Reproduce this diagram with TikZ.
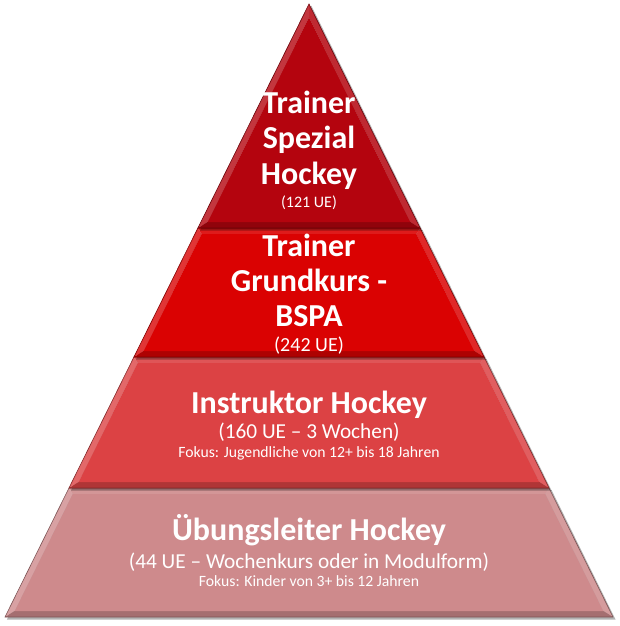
\documentclass[tikz,border=0pt]{standalone}
\usepackage{fontspec}
\setmainfont{Carlito}
\definecolor{tierA}{RGB}{180,4,14}
\definecolor{tierB}{RGB}{218,2,2}
\definecolor{tierC}{RGB}{220,66,68}
\definecolor{tierD}{RGB}{206,138,140}
\tikzset{
  tiertitle/.style={text=white,anchor=base,inner sep=0pt,font=\fontsize{32}{38}\selectfont\bfseries},
  tiersub/.style={text=white,anchor=base,inner sep=0pt,font=\fontsize{21.3}{25}\selectfont},
  tierfocus/.style={text=white,anchor=base,inner sep=0pt,font=\fontsize{15.7}{19}\selectfont},
}
% #1 top y, #2 bottom y, #3 colour
\newcommand\tierbox[3]{%
  \pgfmathsetmacro\xtl{309-0.49592*(#1-4)}%
  \pgfmathsetmacro\xtr{618-\xtl}%
  \pgfmathsetmacro\xbl{309-0.49592*(#2-4)}%
  \pgfmathsetmacro\xbr{618-\xbl}%
  \pgfmathsetmacro\ita{#1<5 ? 17.5 : #1+6}%
  \pgfmathsetmacro\ixtl{#1<5 ? 309 : 309-0.49592*(\ita-4)+6.7}%
  \pgfmathsetmacro\ixtr{618-\ixtl}%
  \pgfmathsetmacro\itb{#2-6}%
  \pgfmathsetmacro\ixbl{309-0.49592*(\itb-4)+6.7}%
  \pgfmathsetmacro\ixbr{618-\ixbl}%
  \fill[black,opacity=0.3] (\xtl+2,#1+2) -- (\xtr+2.5,#1+2) -- (\xbr+2.5,#2+2.5) -- (\xbl+2,#2+2.5) -- cycle;
  \fill[#3!90!white] (\xtl,#1) -- (\xtr,#1) -- (\ixtr,\ita) -- (\ixtl,\ita) -- cycle;
  \fill[#3!80!white] (\xbl,#2) -- (\xtl,#1) -- (\ixtl,\ita) -- (\ixbl,\itb) -- cycle;
  \fill[#3!85!white] (\xtr,#1) -- (\xbr,#2) -- (\ixbr,\itb) -- (\ixtr,\ita) -- cycle;
  \fill[#3!80!black] (\xbr,#2) -- (\xbl,#2) -- (\ixbl,\itb) -- (\ixbr,\itb) -- cycle;
  \fill[#3] (\ixtl,\ita) -- (\ixtr,\ita) -- (\ixbr,\itb) -- (\ixbl,\itb) -- cycle;
  \draw[#3!60!black,line width=0.6pt] (\xtl,#1) -- (\xtr,#1) -- (\xbr,#2) -- (\xbl,#2) -- cycle;
}
\begin{document}
\begin{tikzpicture}[x=1pt,y=-1pt]
\useasboundingbox (0,0) rectangle (620,626);
\tierbox{488}{617}{tierD}
\tierbox{357}{488}{tierC}
\tierbox{228}{357}{tierB}
\tierbox{4}{228}{tierA}
% level 1
\node[tiertitle] (a1) at (309,113) {Trainer};
\node[tiertitle] (a2) at (309,148) {Spezial};
\node[tiertitle] (a3) at (309,184) {Hockey};
\node[tiersub,font=\fontsize{16}{19}\selectfont] (a4) at (309,207) {(121 UE)};
% level 2
\node[tiertitle] (b1) at (309,256) {Trainer};
\node[tiertitle] (b2) at (309,291) {Grundkurs -};
\node[tiertitle] (b3) at (309,326) {BSPA};
\node[tiersub,font=\fontsize{20}{24}\selectfont] (b4) at (309,351) {(242 UE)};
% level 3
\node[tiertitle] (c1) at (309,413) {Instruktor Hockey};
\node[tiersub] (c2) at (309,438) {(160 UE – 3 Wochen)};
\node[tierfocus] (c3) at (309,457) {Fokus: Jugendliche von 12+ bis 18 Jahren};
% level 4
\node[tiertitle] (d1) at (309,540) {Übungsleiter Hockey};
\node[tiersub] (d2) at (309,568) {(44 UE – Wochenkurs oder in Modulform)};
\node[tierfocus] (d3) at (309,586) {Fokus: Kinder von 3+ bis 12 Jahren};
\end{tikzpicture}
\end{document}
